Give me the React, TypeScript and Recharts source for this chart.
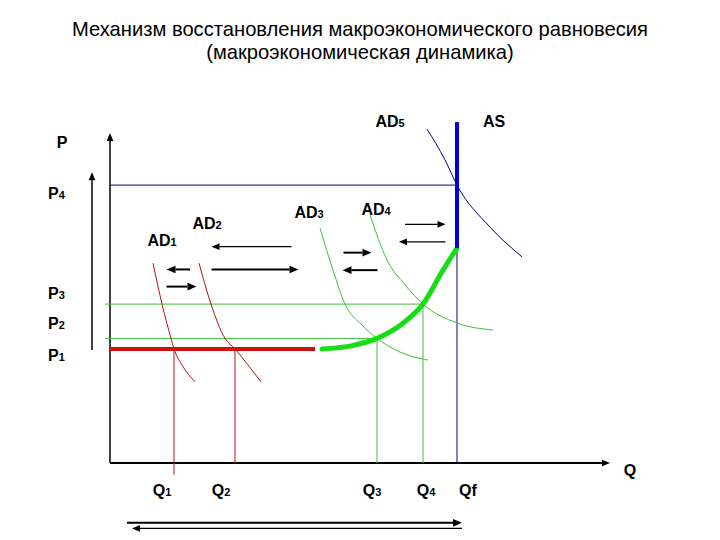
import React from "react";
import { ComposedChart, Line, XAxis, YAxis, ReferenceLine, ReferenceDot } from "recharts";

// plot units: Q (output) across, P (price level) up
const qDomain = [-6, 102];
const pDomain = [-20, 100];

const qLevels = [12.8, 25, 53.4, 62.6, 69.4];
const qNames = [
  { base: "Q", sub: "1" },
  { base: "Q", sub: "2" },
  { base: "Q", sub: "3" },
  { base: "Q", sub: "4" },
  { base: "Qf", sub: "" },
];
const pLevels = [32.6, 35.6, 45.4, 79.4];
const pNames = ["1", "2", "3", "4"];

const ad1 = [
  { q: 8.6, p: 57.1 },
  { q: 10.4, p: 45.4 },
  { q: 12.2, p: 35.6 },
  { q: 12.8, p: 32.6 },
  { q: 14.4, p: 28 },
  { q: 17, p: 23.2 },
];
const ad2 = [
  { q: 17.8, p: 57.1 },
  { q: 20.2, p: 45.4 },
  { q: 23, p: 35.6 },
  { q: 25, p: 32.6 },
  { q: 27.6, p: 28 },
  { q: 30.2, p: 23.2 },
];
const ad3 = [
  { q: 42, p: 67.1 },
  { q: 44.6, p: 55.1 },
  { q: 47, p: 45.4 },
  { q: 50.4, p: 39.4 },
  { q: 53.4, p: 35.6 },
  { q: 58, p: 31.7 },
  { q: 63.6, p: 29.4 },
];
const ad4 = [
  { q: 52, p: 70.9 },
  { q: 55.4, p: 58 },
  { q: 59, p: 50.9 },
  { q: 62.6, p: 45.4 },
  { q: 69.4, p: 40 },
  { q: 76.6, p: 38 },
];
const ad5 = [
  { q: 63.4, p: 95.4 },
  { q: 67, p: 86.6 },
  { q: 69.4, p: 79.4 },
  { q: 76, p: 67.4 },
  { q: 82.4, p: 58.9 },
];
// path of recovery along AS
const recovery = [
  { q: 42.4, p: 32.6 },
  { q: 48, p: 33.4 },
  { q: 53.4, p: 35.6 },
  { q: 58.4, p: 39.7 },
  { q: 62.6, p: 45.4 },
  { q: 66.6, p: 55.1 },
  { q: 69.4, p: 61.4 },
];
const asTop = 97.4;
const p1LineEnd = 41;
const axisTop = 94.3;
const axisRight = 100;
const sideArrow = { q: -3.6, from: 32.3, to: 83.1 };

// shift arrows: [from q, to q, p]
const boldArrows = [
  [16, 11.3, 55.3],
  [20.3, 37.7, 55.3],
  [11.3, 17.3, 50.4],
  [46.7, 52.3, 60.1],
  [53.5, 46.5, 55.1],
  [3.4, 70.4, -17.1],
];
const thinArrows = [
  [36.3, 20.3, 61.8],
  [59, 67.1, 68.2],
  [67.1, 57.8, 63.2],
  [70.4, 4.4, -18.7],
];

const FONT = "'Liberation Sans', Arial, sans-serif";
const RED = "#b41414";
const GREEN = "#3cc03c";
const NAVY = "#000080";

const arrowShape = (w: number, head: number) => (props: any) => {
  const { x1, y1, x2, y2, stroke } = props;
  const a = Math.atan2(y2 - y1, x2 - x1);
  const bx = x2 - head * Math.cos(a);
  const by = y2 - head * Math.sin(a);
  const hw = head * 0.42;
  const nx = -Math.sin(a) * hw;
  const ny = Math.cos(a) * hw;
  return (
    <g>
      <line x1={x1} y1={y1} x2={bx} y2={by} stroke={stroke} strokeWidth={w} />
      <polygon points={`${x2},${y2} ${bx + nx},${by + ny} ${bx - nx},${by - ny}`} fill={stroke} />
    </g>
  );
};

const Sub = ({ x, y, base, sub, anchor = "start" }: any) => (
  <text x={x} y={y} fontFamily={FONT} fontWeight="bold" fontSize={16} fill="#000" textAnchor={anchor}>
    {base}
    {sub ? <tspan fontSize={11}>{sub}</tspan> : null}
  </text>
);

const pNudge = [6, -15, -11, 8];
const PTick = (props: any) => {
  const { x, y, payload } = props;
  const i = pLevels.indexOf(payload.value);
  if (i < 0) return null;
  return <Sub x={x - 32} y={y + pNudge[i] + 6} base="P" sub={pNames[i]} />;
};

const qNudge = [-12, -14, -5, 3, 11];
const QTick = (props: any) => {
  const { x, y, payload } = props;
  const i = qLevels.indexOf(payload.value);
  if (i < 0) return null;
  return <Sub x={x + qNudge[i]} y={y - 37} base={qNames[i].base} sub={qNames[i].sub} anchor="middle" />;
};

const CurveName = (props: any) => {
  const vb = props.viewBox || {};
  return <Sub x={vb.x + props.dx} y={vb.y + props.dy + 6} base={props.base} sub={props.sub} anchor="middle" />;
};

export default function App() {
  return (
    <div style={{ position: "absolute", left: 0, top: 0, width: 720, height: 540, background: "#fff" }}>
      <div
        style={{
          position: "absolute",
          left: 0,
          top: 18,
          width: 720,
          textAlign: "center",
          fontFamily: "'Liberation Sans', Arial, sans-serif",
          fontSize: 21,
          lineHeight: "22.5px",
          color: "#000",
          transform: "scaleX(0.96)",
        }}
      >
        Механизм восстановления макроэкономического равновесия
        <br />
        (макроэкономическая динамика)
      </div>
      <ComposedChart width={720} height={540} margin={{ top: 113, right: 100, bottom: 0, left: 0 }}>
        <XAxis
          type="number"
          dataKey="q"
          domain={qDomain}
          ticks={qLevels}
          interval={0}
          tick={<QTick />}
          axisLine={false}
          tickLine={false}
          tickSize={0}
          tickMargin={0}
          height={7}
        />
        <YAxis
          type="number"
          domain={pDomain}
          ticks={pLevels}
          interval={0}
          tick={<PTick />}
          axisLine={false}
          tickLine={false}
          tickSize={0}
          tickMargin={0}
          width={80}
        />

        {/* axes */}
        <ReferenceLine
          segment={[{ x: 0, y: 0 }, { x: 0, y: axisTop }]}
          stroke="#000"
          shape={arrowShape(1.5, 8)}
          label={<CurveName base="P" sub="" dx={-48} dy={9} />}
        />
        <ReferenceLine
          segment={[{ x: 0, y: 0 }, { x: axisRight, y: 0 }]}
          stroke="#000"
          shape={arrowShape(2, 8)}
          label={<CurveName base="Q" sub="" dx={520} dy={7} />}
        />
        <ReferenceLine
          segment={[{ x: sideArrow.q, y: sideArrow.from }, { x: sideArrow.q, y: sideArrow.to }]}
          stroke="#000"
          shape={arrowShape(1.5, 8)}
        />

        {/* price levels */}
        <ReferenceLine segment={[{ x: 0, y: pLevels[3] }, { x: qLevels[4], y: pLevels[3] }]} stroke={NAVY} strokeWidth={1} />
        <ReferenceLine segment={[{ x: -1, y: pLevels[2] }, { x: qLevels[3], y: pLevels[2] }]} stroke={GREEN} strokeWidth={1} />
        <ReferenceLine segment={[{ x: -1, y: pLevels[1] }, { x: qLevels[2], y: pLevels[1] }]} stroke={GREEN} strokeWidth={1} />

        {/* output levels */}
        <ReferenceLine segment={[{ x: qLevels[0], y: pLevels[0] }, { x: qLevels[0], y: -3.4 }]} stroke={RED} strokeWidth={1} />
        <ReferenceLine segment={[{ x: qLevels[1], y: pLevels[0] }, { x: qLevels[1], y: 0 }]} stroke={RED} strokeWidth={1} />
        <ReferenceLine segment={[{ x: qLevels[2], y: pLevels[1] }, { x: qLevels[2], y: 0 }]} stroke={GREEN} strokeWidth={1} />
        <ReferenceLine segment={[{ x: qLevels[3], y: pLevels[2] }, { x: qLevels[3], y: 0 }]} stroke={GREEN} strokeWidth={1} />
        <ReferenceLine segment={[{ x: qLevels[4], y: recovery[recovery.length - 1].p }, { x: qLevels[4], y: 0 }]} stroke={NAVY} strokeWidth={1} />

        {/* AD curves */}
        <Line data={ad1} dataKey="p" type="monotone" stroke={RED} strokeWidth={1} dot={false} isAnimationActive={false} />
        <Line data={ad2} dataKey="p" type="monotone" stroke={RED} strokeWidth={1} dot={false} isAnimationActive={false} />
        <Line data={ad3} dataKey="p" type="monotone" stroke={GREEN} strokeWidth={1} dot={false} isAnimationActive={false} />
        <Line data={ad4} dataKey="p" type="monotone" stroke={GREEN} strokeWidth={1} dot={false} isAnimationActive={false} />
        <Line data={ad5} dataKey="p" type="monotone" stroke={NAVY} strokeWidth={1} dot={false} isAnimationActive={false} />

        {/* P1 and the recovery path */}
        <ReferenceLine segment={[{ x: 0, y: pLevels[0] }, { x: p1LineEnd, y: pLevels[0] }]} stroke="#cc1111" strokeWidth={4} />
        <Line data={recovery} dataKey="p" type="monotone" stroke="#16dd16" strokeWidth={5} strokeLinecap="round" dot={false} isAnimationActive={false} />
        <ReferenceLine
          segment={[{ x: qLevels[4], y: recovery[recovery.length - 1].p }, { x: qLevels[4], y: asTop }]}
          stroke="#0000dd"
          strokeWidth={4}
        />

        {/* curve names */}
        <ReferenceDot x={ad1[0].q} y={ad1[0].p} r={0} label={<CurveName base="AD" sub="1" dx={9} dy={-23} />} />
        <ReferenceDot x={ad2[0].q} y={ad2[0].p} r={0} label={<CurveName base="AD" sub="2" dx={8} dy={-40} />} />
        <ReferenceDot x={ad3[0].q} y={ad3[0].p} r={0} label={<CurveName base="AD" sub="3" dx={-11} dy={-16} />} />
        <ReferenceDot x={ad4[0].q} y={ad4[0].p} r={0} label={<CurveName base="AD" sub="4" dx={6} dy={-6} />} />
        <ReferenceDot x={ad5[0].q} y={ad5[0].p} r={0} label={<CurveName base="AD" sub="5" dx={-37} dy={-8} />} />
        <ReferenceDot x={qLevels[4]} y={asTop} r={0} label={<CurveName base="AS" sub="" dx={37} dy={-1} />} />

        {/* shift arrows */}
        {boldArrows.map(([a, b, p], i) => (
          <ReferenceLine key={"b" + i} segment={[{ x: a, y: p }, { x: b, y: p }]} stroke="#000" shape={arrowShape(2, 9)} />
        ))}
        {thinArrows.map(([a, b, p], i) => (
          <ReferenceLine key={"t" + i} segment={[{ x: a, y: p }, { x: b, y: p }]} stroke="#000" shape={arrowShape(1.2, 8)} />
        ))}
      </ComposedChart>
    </div>
  );
}
